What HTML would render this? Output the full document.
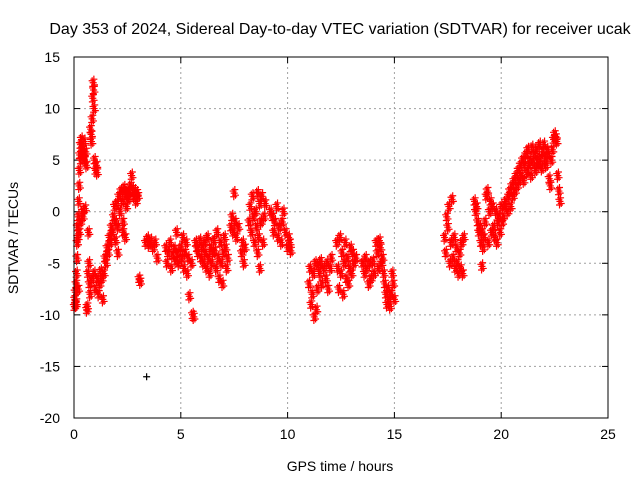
<!DOCTYPE html>
<html><head><meta charset="utf-8"><style>
body{margin:0;background:#fff;}
svg{display:block;font-family:"Liberation Sans",sans-serif;}
</style></head><body>
<svg id="chart" width="640" height="480">
<text x="340" y="34" font-size="16" text-anchor="middle">Day 353 of 2024, Sidereal Day-to-day VTEC variation (SDTVAR) for receiver ucak</text>
<text x="340" y="471" font-size="14" text-anchor="middle">GPS time / hours</text>
<text transform="translate(18,238) rotate(-90)" font-size="14" text-anchor="middle">SDTVAR / TECUs</text>
<g id="grid"></g><g id="ticks"></g><g id="pts"></g>
<rect x="74" y="57" width="534" height="361" fill="none" stroke="#000" stroke-width="1"/>
</svg>
<script>
const xTicks=[0,5,10,15,20,25];
const yTicks=[15,10,5,0,-5,-10,-15,-20];
const redObs=[[0.02,-9.2],[0.04,-8.5],[0.06,-7.8],[0.08,-9],[0.1,-7],[0.12,-6],[0.14,-4.5],[0.15,-3],[0.16,-1.5],[0.18,-2.5],[0.2,-0.5],[0.22,1],[0.24,2.5],[0.25,4],[0.27,5.5],[0.3,6.5],[0.32,5],[0.35,7],[0.38,6],[0.4,0],[0.42,-0.5],[0.45,5.5],[0.48,6.8],[0.5,5],[0.52,0.3],[0.55,5.8],[0.58,4.5],[0.6,-9.5],[0.62,-9.2],[0.65,-6],[0.68,-2],[0.7,-5],[0.72,-7],[0.75,-8],[0.78,8],[0.8,7.5],[0.82,6.8],[0.85,9],[0.88,11],[0.9,12.5],[0.92,11.8],[0.94,10],[0.96,5],[1.0,4],[1.05,4.5],[1.08,3.8],[0.85,-6.5],[0.95,-6],[1.0,-7.5],[1.1,-6.5],[1.15,-8],[1.2,-7],[1.25,-5.8],[1.3,-6.5],[1.35,-8.5],[1.4,-6],[1.45,-4.5],[1.5,-5],[1.55,-3.5],[1.6,-4],[1.65,-2.5],[1.7,-3],[1.75,-1.5],[1.8,-2],[0.2,-7.5],[0.1,-8.8],[0.3,-1],[0.25,-2],
[1.85,-0.5],[1.9,0.5],[1.95,-1],[2.0,0.8],[2.05,-1.5],[2.1,1.5],[2.15,0],[2.2,2],[2.25,1],[2.3,-2],[2.35,2.3],[2.4,1.5],[2.45,0.5],[2.5,2],[2.55,1.2],[2.6,1.8],[2.65,2.5],[2.7,3.5],[2.75,2.2],[2.8,1.5],[2.85,2],[2.9,1],[2.95,1.8],[3.0,1.5],[2.3,-1],[2.4,-2.5],[1.95,-2.8],[2.05,-4],[3.05,-6.5],[3.1,-6.8],
[3.35,-3],[3.45,-2.6],[3.5,-3.2],[3.6,-2.8],[3.7,-3.5],[3.8,-3],[3.9,-4.5],
[4.3,-3.5],[4.35,-5],[4.4,-4],[4.5,-3],[4.55,-5.5],[4.6,-4.2],[4.7,-3.6],[4.75,-4.8],[4.8,-2],[4.85,-4],[4.9,-5],[5.0,-3.5],[5.05,-4.5],[5.1,-2.5],[5.15,-5.5],[5.2,-4],[5.25,-3],[5.3,-6],[5.35,-4.5],[5.4,-8.2],[5.5,-5],[5.55,-10],[5.6,-10.2],
[5.7,-3],[5.75,-3.5],[5.8,-4],[5.9,-2.8],[5.95,-4.5],[6.0,-3.5],[6.05,-5],[6.1,-3],[6.15,-4],[6.2,-5.5],[6.25,-2.5],[6.3,-4.5],[6.35,-6],[6.4,-3.5],[6.45,-5],[6.5,-4],[6.55,-2.8],[6.6,-3.8],[6.65,-5.5],[6.7,-2],[6.75,-4.5],[6.8,-6.5],[6.85,-3],[6.9,-5],[6.95,-7],[7.0,-4],[7.05,-2.5],[7.1,-3.5],[7.15,-5.5],[7.2,-4.5],
[7.35,-1.5],[7.4,-0.5],[7.45,-2],[7.5,1.8],[7.55,-1],[7.6,-2.5],[7.7,-1.5],[7.85,-4],[7.9,-3],[7.95,-5],[8.0,-3.5],
[8.2,-1],[8.25,0.5],[8.3,-2],[8.35,1.5],[8.4,-0.5],[8.45,-3],[8.5,0],[8.55,-1.5],[8.6,1.8],[8.65,-2.5],[8.7,0.8],[8.75,-1],[8.8,1.5],[8.85,-3],[8.9,-0.5],[8.95,0.8],[8.7,-5.5],[8.6,-4],
[9.2,0],[9.3,-0.5],[9.35,-2],[9.4,-1],[9.5,0.5],[9.55,-2.5],[9.6,-1.5],[9.7,-3],[9.75,-1],[9.8,0],[9.9,-2],[10.0,-3.5],[10.05,-2.5],[10.1,-3],[10.15,-3.8],
[11.0,-7],[11.05,-5.5],[11.1,-9],[11.15,-8],[11.2,-6],[11.25,-10.2],[11.3,-5],[11.35,-9.5],[11.4,-7.5],[11.45,-5.2],[11.5,-6],[11.55,-4.8],[11.6,-7],[11.7,-5.5],[11.8,-6.5],[11.85,-5],[11.9,-7.5],[12.0,-5.5],[12.05,-4.5],
[12.3,-3],[12.35,-5.5],[12.4,-7.5],[12.45,-2.5],[12.5,-6],[12.55,-4],[12.6,-8],[12.65,-5],[12.7,-3],[12.75,-6.5],[12.8,-4.5],[12.85,-7],[12.9,-5.5],[12.95,-3.5],[13.0,-6],[13.05,-4],[13.1,-5],[13.2,-4.5],
[13.5,-5],[13.6,-6],[13.65,-4.5],[13.7,-5.5],[13.8,-7],[13.85,-5],[13.9,-6.5],[14.0,-4.8],[14.05,-6],[14.15,-3],[14.2,-4],[14.25,-5.5],[14.3,-2.8],[14.35,-3.5],[14.4,-5],[14.45,-4.5],[14.5,-6],[14.55,-7],[14.6,-8],[14.65,-9],[14.7,-7.5],[14.75,-8.5],[14.8,-9.2],[14.85,-8],[14.9,-6],[14.95,-7],[15.0,-8.5],
[17.35,-2.5],[17.4,-4],[17.45,-0.5],[17.5,-1.5],[17.55,0.5],[17.6,-5],[17.65,-3],[17.7,1.2],[17.75,-4.5],[17.8,-2.5],[17.85,-5.5],[17.9,-3.5],[17.95,-5],[18.0,-6],[18.05,-4],[18.1,-5.5],[18.15,-3],[18.2,-6],[18.25,-2.5],
[18.75,1],[18.8,0],[18.85,0.5],[18.9,-1],[18.95,-2],[19.0,-1.5],[19.05,-3],[19.1,-2],[19.15,-3.5],[19.2,-2.5],[19.25,-1],[19.3,1.5],[19.35,2],[19.4,-3],[19.45,0],[19.5,1],[19.55,-2],[19.6,0.5],[19.65,-1.5],[19.7,-2.5],[19.75,0],[19.8,-3],[19.85,-1],[19.9,-0.5],[19.95,-2],[20.0,0.5],[20.05,-1],[20.1,-0.5],[20.15,0.5],[20.2,1],[19.1,-5.3],
[20.3,0],[20.35,1.5],[20.4,2],[20.45,0.5],[20.5,2.5],[20.55,1.5],[20.6,3],[20.65,2],[20.7,3.5],[20.75,2.5],[20.8,4],[20.85,3],[20.9,4.5],[20.95,3.5],[21.0,5],[21.05,3],[21.1,4.5],[21.15,5.5],[21.2,3.8],[21.25,6],[21.3,4.5],[21.35,5],[21.4,3.5],[21.45,6.2],[21.5,4.8],[21.55,5.5],[21.6,4],[21.65,6],[21.7,5],[21.75,4.5],[21.8,6.5],[21.85,5.2],[21.9,4.2],[21.95,5.8],[22.0,6.5],[22.05,5],[22.1,4.5],[22.15,6],[22.2,5.5],[22.25,3.2],[22.3,2.5],[22.35,5],[22.4,6],[22.45,7],[22.5,7.5],[22.55,7.2],[22.6,6.8],[22.65,3.5],[22.7,2],[22.75,1]];
const blackObs=[[3.4,-16]];
const X0=74,X1=608,Y0=418,Y1=57;
function xs(t){return X0+(t-0)/(25-0)*(X1-X0);}
function ys(v){return Y0-(v-(-20))/(15-(-20))*(Y0-Y1);}
const NS="http://www.w3.org/2000/svg";
const grid=document.getElementById('grid'),ticks=document.getElementById('ticks'),pts=document.getElementById('pts');
function mk(tag,attrs,parent){const e=document.createElementNS(NS,tag);for(const k in attrs)e.setAttribute(k,attrs[k]);parent.appendChild(e);return e;}
xTicks.forEach(t=>{const x=xs(t);
 if(t>0&&t<25){const g=mk('line',{x1:x,x2:x,y1:Y1,y2:Y0,stroke:'#a0a0a0','stroke-dasharray':'2,3'},grid);
 
 }
 mk('line',{x1:x,x2:x,y1:Y0,y2:Y0-6,stroke:'#000'},ticks);
 mk('line',{x1:x,x2:x,y1:Y1,y2:Y1+6,stroke:'#000'},ticks);
 const l=mk('text',{x:x,y:Y0+21,'font-size':14,'text-anchor':'middle'},ticks);l.textContent=t;
 
 });
yTicks.forEach(v=>{const y=ys(v);
 if(v<15&&v>-20){const g=mk('line',{x1:X0,x2:X1,y1:y,y2:y,stroke:'#a0a0a0','stroke-dasharray':'2,3'},grid);
 
 }
 mk('line',{x1:X0,x2:X0+6,y1:y,y2:y,stroke:'#000'},ticks);
 mk('line',{x1:X1,x2:X1-6,y1:y,y2:y,stroke:'#000'},ticks);
 const l=mk('text',{x:X0-14,y:y+5,'font-size':14,'text-anchor':'end'},ticks);l.textContent=v;
 
 });
function plus(o,col){const x=xs(o[0]),y=ys(o[1]);
 const p=mk('path',{d:`M${x-3.5},${y}h7M${x},${y-3.5}v7`,stroke:col,'stroke-width':1.2,fill:'none'},pts);
 
 }
blackObs.forEach(o=>plus(o,'#000'));
redObs.forEach(o=>{plus(o,'#ff0000');plus([o[0]+0.03,o[1]+0.35],'#ff0000');plus([o[0]-0.02,o[1]-0.35],'#ff0000');plus([o[0]+0.06,o[1]-0.2],'#ff0000');plus([o[0]-0.05,o[1]+0.2],'#ff0000');});
</script>
</body></html>
